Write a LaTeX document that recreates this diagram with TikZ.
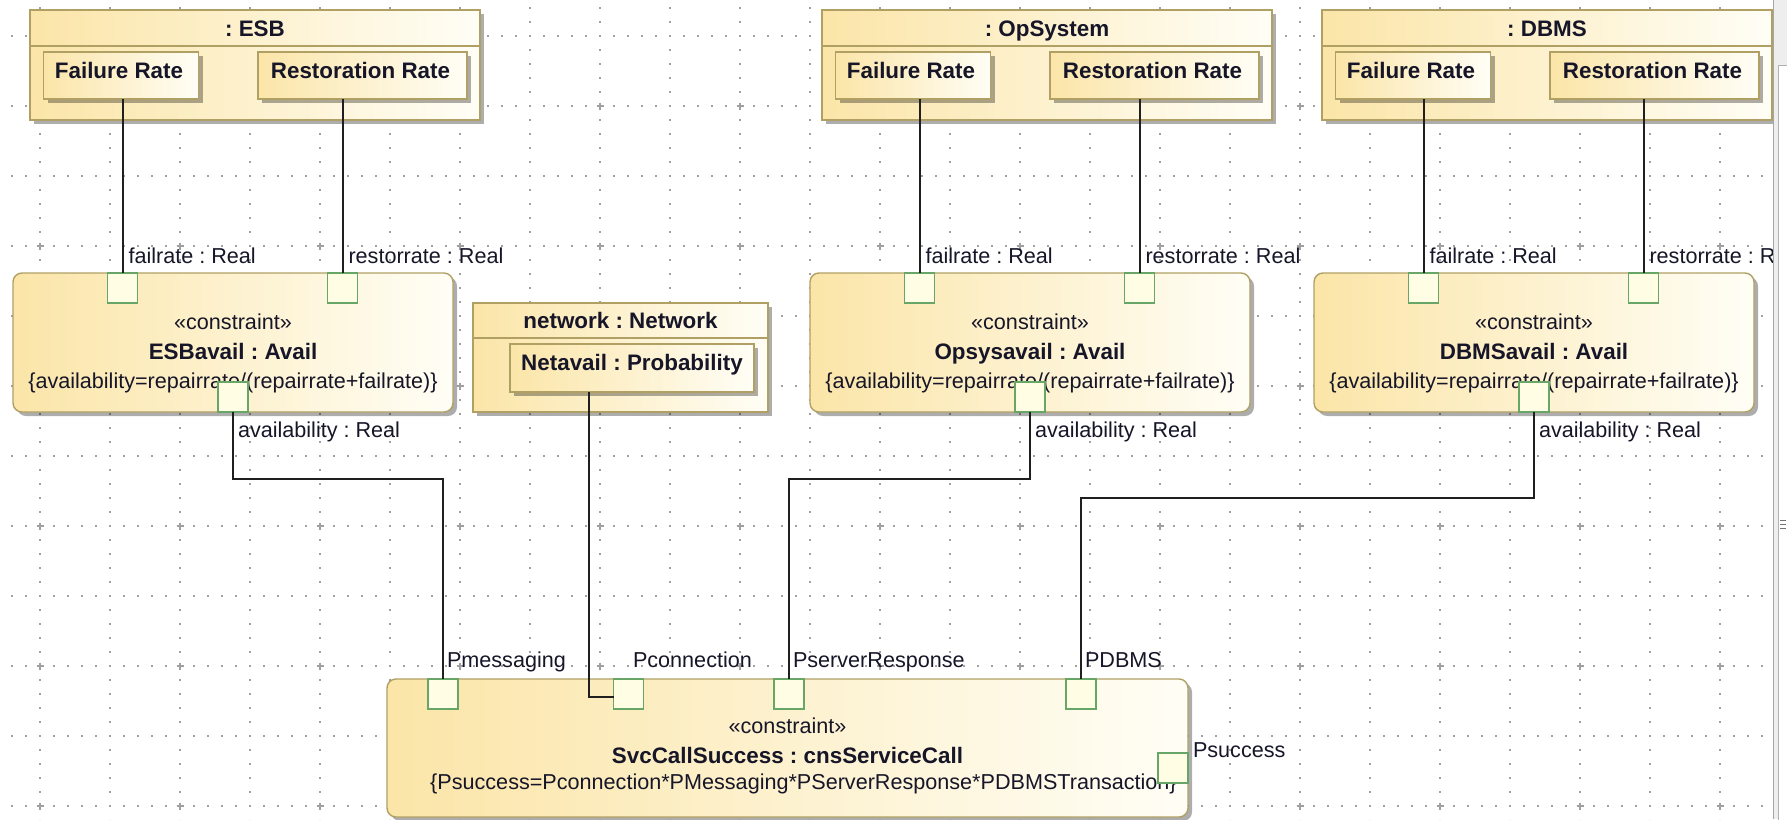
\documentclass[tikz,border=0pt]{standalone}
\usepackage{fontspec}
\setmainfont{Liberation Sans}
\usetikzlibrary{shadows}
\frenchspacing

\definecolor{bordc}{RGB}{176,160,100}
\definecolor{fillL}{RGB}{251,229,168}
\definecolor{fillR}{RGB}{255,254,246}
\definecolor{portc}{RGB}{104,166,104}
\definecolor{portf}{RGB}{255,254,228}
\definecolor{ink}{RGB}{22,22,40}
\definecolor{gridc}{RGB}{160,160,160}
\definecolor{sbar}{RGB}{238,238,238}

% part property with two inner value properties
\newcommand\partblock[3]{%
  \node[blk, minimum width=450pt, minimum height=110pt] (#1) at (#2,10) {};
  \draw[bordc, line width=1.4pt] ([yshift=-36pt]#1.north west) -- ([yshift=-36pt]#1.north east);
  \node[bname, anchor=base] at ([yshift=-26pt]#1.north) {#3};
  \node[blk, minimum width=155pt, minimum height=47pt] (#1fr) at ([xshift=13.5pt,yshift=-42pt]#1.north west) {};
  \node[bname, anchor=base] at ([xshift=-2pt,yshift=-26pt]#1fr.north) {Failure Rate};
  \node[blk, minimum width=209pt, minimum height=47pt] (#1rr) at ([xshift=228pt,yshift=-42pt]#1.north west) {};
  \node[bname, anchor=base] at ([xshift=-2pt,yshift=-26pt]#1rr.north) {Restoration Rate};
}

% availability constraint property with its three parameters
\newcommand\availblock[3]{%
  \node[cbox, minimum width=440pt, minimum height=139pt] (#1) at (#2,273) {};
  \node[lbl, anchor=base] at ([yshift=-56pt]#1.north) {«constraint»};
  \node[bname, anchor=base] at ([yshift=-86pt]#1.north) {#3};
  \node[lbl, anchor=base] at ([yshift=-115pt]#1.north) {\{availability=repairrate/(repairrate+failrate)\}};
  \node[port, anchor=north] (#1fr) at ([xshift=109.5pt]#1.north west) {};
  \node[port, anchor=north] (#1rr) at ([xshift=329.5pt]#1.north west) {};
  \node[port, anchor=south] (#1av) at (#1.south) {};
  \node[lbl, anchor=base west] at ([xshift=6pt,yshift=10pt]#1fr.north) {failrate : Real};
  \node[lbl, anchor=base west] at ([xshift=6pt,yshift=10pt]#1rr.north) {restorrate : Real};
  \node[lbl, anchor=base west] at ([xshift=5pt,yshift=-25pt]#1av.south) {availability : Real};
}

\begin{document}
\begin{tikzpicture}[x=1pt,y=-1pt,
  every node/.style={text=ink},
  blk/.style={draw=bordc, line width=1.4pt, left color=fillL, right color=fillR,
    inner sep=0pt, outer sep=0pt, anchor=north west,
    drop shadow={shadow xshift=4pt, shadow yshift=-4pt, opacity=0.32, fill=black}},
  cbox/.style={blk, rounded corners=9pt},
  port/.style={draw=portc, fill=portf, line width=1.4pt, minimum width=30pt,
    minimum height=30pt, inner sep=0pt, outer sep=0pt},
  lbl/.style={font=\fontsize{21.6pt}{25pt}\selectfont, inner sep=0pt, outer sep=0pt},
  bname/.style={font=\fontsize{22.4pt}{26pt}\selectfont\bfseries, inner sep=0pt, outer sep=0pt},
  conn/.style={draw=black!88, line width=2pt},
  griddot/.style={draw=gridc, line width=2pt, dash pattern=on 2pt off 12pt},
]
\useasboundingbox[fill=white] (0,0) rectangle (1787,819);

% dotted drawing grid
\foreach \gx in {40,110,...,1720} \draw[griddot] (\gx,7) -- (\gx,819);
\foreach \gy in {36,106,...,806} \draw[griddot] (11,\gy) -- (1773,\gy);
\foreach \px in {40,180,...,1720}
  \foreach \py in {106,246,...,806}
    \draw[gridc, line width=1.3pt] (\px-3.5,\py) -- (\px+3.5,\py) (\px,\py-3.5) -- (\px,\py+3.5);

% parts
\partblock{esb}{30}{: ESB}
\partblock{ops}{822}{: OpSystem}
\partblock{dbm}{1322}{: DBMS}

% network part
\node[blk, minimum width=295pt, minimum height=109pt] (net) at (473,303) {};
\draw[bordc, line width=1.4pt] ([yshift=-35pt]net.north west) -- ([yshift=-35pt]net.north east);
\node[bname, anchor=base] at ([yshift=-25pt]net.north) {network : Network};
\node[blk, minimum width=244pt, minimum height=48pt] (netav) at ([xshift=37pt,yshift=-41pt]net.north west) {};
\node[bname, anchor=base] at ([yshift=-26pt]netav.north) {Netavail : Probability};

% availability constraints
\availblock{esbA}{13}{ESBavail : Avail}
\availblock{opsA}{810}{Opsysavail : Avail}
\availblock{dbmA}{1314}{DBMSavail : Avail}

% service call constraint
\node[cbox, minimum width=801pt, minimum height=138pt] (svc) at (387,679) {};
\node[lbl, anchor=base] at ([yshift=-54pt]svc.north) {«constraint»};
\node[bname, anchor=base] at ([yshift=-84pt]svc.north) {SvcCallSuccess : cnsServiceCall};
\node[lbl, anchor=base] at ([xshift=16pt,yshift=-110pt]svc.north) {\{Psuccess=Pconnection*PMessaging*PServerResponse*PDBMSTransaction\}};
\node[port, anchor=north] (pmsg) at ([xshift=56pt]svc.north west) {};
\node[port, anchor=north] (pconn) at ([xshift=241.5pt]svc.north west) {};
\node[port, anchor=north] (psrv) at ([xshift=402pt]svc.north west) {};
\node[port, anchor=north] (pdbms) at ([xshift=694pt]svc.north west) {};
\node[port, anchor=east] (psucc) at ([yshift=-89pt]svc.north east) {};
\node[lbl, anchor=base west] at ([xshift=4pt,yshift=12pt]pmsg.north) {Pmessaging};
\node[lbl, anchor=base west] at ([xshift=4.5pt,yshift=12pt]pconn.north) {Pconnection};
\node[lbl, anchor=base west] at ([xshift=4pt,yshift=12pt]psrv.north) {PserverResponse};
\node[lbl, anchor=base west] at ([xshift=4pt,yshift=12pt]pdbms.north) {PDBMS};
\node[lbl, anchor=base west] at ([xshift=5pt,yshift=-4pt]psucc.north east) {Psuccess};

% binding connectors: rates to constraint parameters
\draw[conn] (esbfr.south -| esbAfr.north) -- (esbAfr.north);
\draw[conn] (esbrr.south -| esbArr.north) -- (esbArr.north);
\draw[conn] (opsfr.south -| opsAfr.north) -- (opsAfr.north);
\draw[conn] (opsrr.south -| opsArr.north) -- (opsArr.north);
\draw[conn] (dbmfr.south -| dbmAfr.north) -- (dbmAfr.north);
\draw[conn] (dbmrr.south -| dbmArr.north) -- (dbmArr.north);

% binding connectors: availabilities to service call parameters
\draw[conn] (esbAav.south) -- ++(0,67) -| (pmsg.north);
\draw[conn] ([xshift=-43pt]netav.south) |- ([yshift=-3pt]pconn.west);
\draw[conn] (opsAav.south) -- ++(0,67) -| (psrv.north);
\draw[conn] (dbmAav.south) -- ++(0,86) -| (pdbms.north);

% window scroll bar on the right edge
\fill[sbar] (1773,0) rectangle (1787,819);
\draw[black!35, line width=1pt] (1773.5,0) -- (1773.5,819);
\draw[black!30, line width=1pt, fill=white] (1778,65) rectangle (1790,822);
\foreach \gy in {520,524,528} \draw[black!55, line width=1pt] (1780,\gy) -- (1786,\gy);
\end{tikzpicture}
\end{document}
